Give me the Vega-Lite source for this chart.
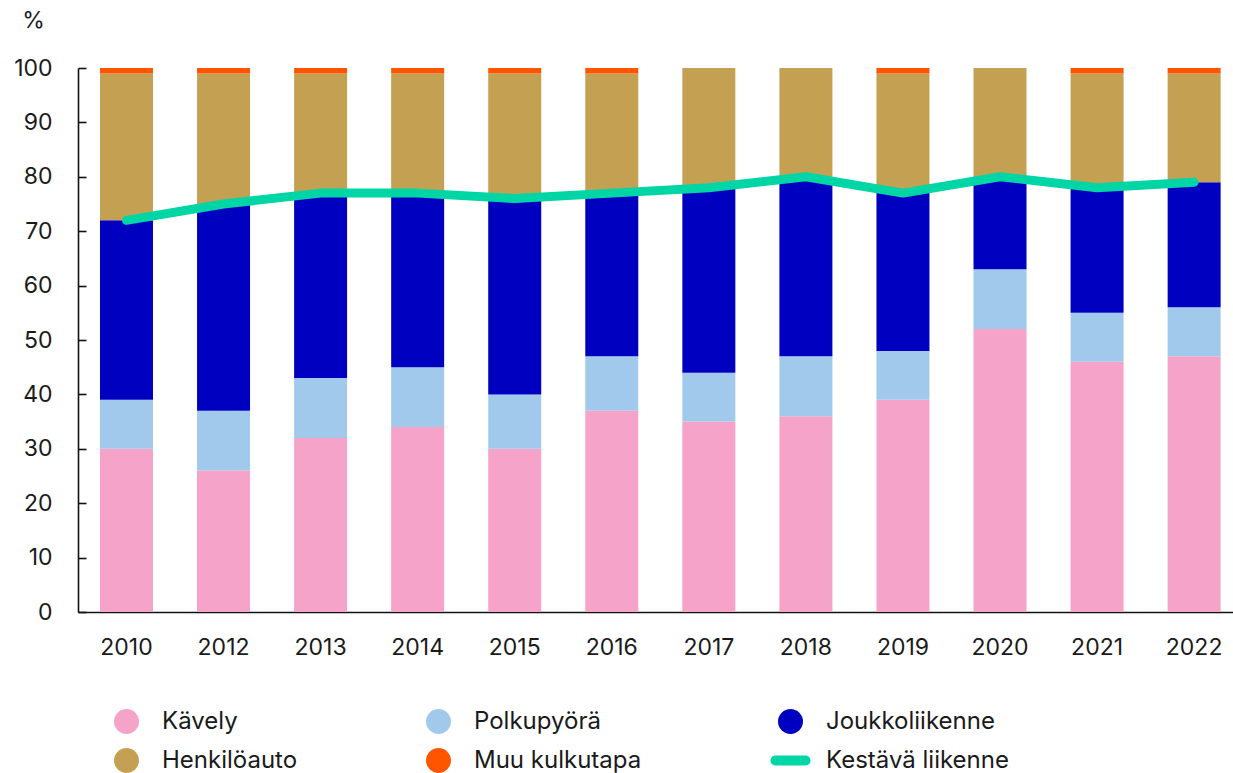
{
  "$schema": "https://vega.github.io/schema/vega-lite/v6.json",
  "width": 1155,
  "height": 544,
  "autosize": {"type": "none"},
  "padding": {"left": 78, "top": 68, "right": 0, "bottom": 161},
  "background": "white",
  "config": {
    "view": {"stroke": null},
    "font": "Inter",
    "axis": {"labelFont": "Inter", "titleFont": "Inter", "labelColor": "#1a1a1a", "titleColor": "#1a1a1a"},
    "legend": {"labelFont": "Inter"}
  },
  "datasets": {
    "bars": [
      {"year": "2010", "mode": "Kävely", "value": 30},
      {"year": "2010", "mode": "Polkupyörä", "value": 9},
      {"year": "2010", "mode": "Joukkoliikenne", "value": 33},
      {"year": "2010", "mode": "Henkilöauto", "value": 27},
      {"year": "2010", "mode": "Muu kulkutapa", "value": 1},
      {"year": "2012", "mode": "Kävely", "value": 26},
      {"year": "2012", "mode": "Polkupyörä", "value": 11},
      {"year": "2012", "mode": "Joukkoliikenne", "value": 38},
      {"year": "2012", "mode": "Henkilöauto", "value": 24},
      {"year": "2012", "mode": "Muu kulkutapa", "value": 1},
      {"year": "2013", "mode": "Kävely", "value": 32},
      {"year": "2013", "mode": "Polkupyörä", "value": 11},
      {"year": "2013", "mode": "Joukkoliikenne", "value": 34},
      {"year": "2013", "mode": "Henkilöauto", "value": 22},
      {"year": "2013", "mode": "Muu kulkutapa", "value": 1},
      {"year": "2014", "mode": "Kävely", "value": 34},
      {"year": "2014", "mode": "Polkupyörä", "value": 11},
      {"year": "2014", "mode": "Joukkoliikenne", "value": 32},
      {"year": "2014", "mode": "Henkilöauto", "value": 22},
      {"year": "2014", "mode": "Muu kulkutapa", "value": 1},
      {"year": "2015", "mode": "Kävely", "value": 30},
      {"year": "2015", "mode": "Polkupyörä", "value": 10},
      {"year": "2015", "mode": "Joukkoliikenne", "value": 36},
      {"year": "2015", "mode": "Henkilöauto", "value": 23},
      {"year": "2015", "mode": "Muu kulkutapa", "value": 1},
      {"year": "2016", "mode": "Kävely", "value": 37},
      {"year": "2016", "mode": "Polkupyörä", "value": 10},
      {"year": "2016", "mode": "Joukkoliikenne", "value": 30},
      {"year": "2016", "mode": "Henkilöauto", "value": 22},
      {"year": "2016", "mode": "Muu kulkutapa", "value": 1},
      {"year": "2017", "mode": "Kävely", "value": 35},
      {"year": "2017", "mode": "Polkupyörä", "value": 9},
      {"year": "2017", "mode": "Joukkoliikenne", "value": 34},
      {"year": "2017", "mode": "Henkilöauto", "value": 22},
      {"year": "2017", "mode": "Muu kulkutapa", "value": 0},
      {"year": "2018", "mode": "Kävely", "value": 36},
      {"year": "2018", "mode": "Polkupyörä", "value": 11},
      {"year": "2018", "mode": "Joukkoliikenne", "value": 33},
      {"year": "2018", "mode": "Henkilöauto", "value": 20},
      {"year": "2018", "mode": "Muu kulkutapa", "value": 0},
      {"year": "2019", "mode": "Kävely", "value": 39},
      {"year": "2019", "mode": "Polkupyörä", "value": 9},
      {"year": "2019", "mode": "Joukkoliikenne", "value": 29},
      {"year": "2019", "mode": "Henkilöauto", "value": 22},
      {"year": "2019", "mode": "Muu kulkutapa", "value": 1},
      {"year": "2020", "mode": "Kävely", "value": 52},
      {"year": "2020", "mode": "Polkupyörä", "value": 11},
      {"year": "2020", "mode": "Joukkoliikenne", "value": 17},
      {"year": "2020", "mode": "Henkilöauto", "value": 20},
      {"year": "2020", "mode": "Muu kulkutapa", "value": 0},
      {"year": "2021", "mode": "Kävely", "value": 46},
      {"year": "2021", "mode": "Polkupyörä", "value": 9},
      {"year": "2021", "mode": "Joukkoliikenne", "value": 23},
      {"year": "2021", "mode": "Henkilöauto", "value": 21},
      {"year": "2021", "mode": "Muu kulkutapa", "value": 1},
      {"year": "2022", "mode": "Kävely", "value": 47},
      {"year": "2022", "mode": "Polkupyörä", "value": 9},
      {"year": "2022", "mode": "Joukkoliikenne", "value": 23},
      {"year": "2022", "mode": "Henkilöauto", "value": 20},
      {"year": "2022", "mode": "Muu kulkutapa", "value": 1}
    ],
    "line": [
      {"year": "2010", "value": 72},
      {"year": "2012", "value": 75},
      {"year": "2013", "value": 77},
      {"year": "2014", "value": 77},
      {"year": "2015", "value": 76},
      {"year": "2016", "value": 77},
      {"year": "2017", "value": 78},
      {"year": "2018", "value": 80},
      {"year": "2019", "value": 77},
      {"year": "2020", "value": 80},
      {"year": "2021", "value": 78},
      {"year": "2022", "value": 79}
    ]
  },
  "encoding": {
    "x": {
      "field": "year",
      "type": "ordinal",
      "scale": {"paddingInner": 0.454, "paddingOuter": 0.177, "align": 0.64},
      "axis": {
        "title": null,
        "labelAngle": 0,
        "labelFontSize": 23,
        "labelPadding": 24,
        "ticks": false,
        "domain": true,
        "domainColor": "#111111",
        "domainWidth": 1.6,
        "labelBaseline": "top"
      }
    }
  },
  "layer": [
    {
      "data": {"name": "bars"},
      "transform": [
        {"calculate": "indexof(['Kävely','Polkupyörä','Joukkoliikenne','Henkilöauto','Muu kulkutapa'], datum.mode)", "as": "o"}
      ],
      "mark": {"type": "bar"},
      "encoding": {
        "y": {
          "field": "value",
          "type": "quantitative",
          "stack": "zero",
          "scale": {"domain": [0, 100], "nice": false},
          "axis": {
            "title": "%",
            "titleAngle": 0,
            "titleX": -45,
            "titleY": -48,
            "titleAlign": "center",
            "titleBaseline": "middle",
            "titleFontSize": 23,
            "titleFontWeight": "normal",
            "values": [0, 10, 20, 30, 40, 50, 60, 70, 80, 90, 100],
            "grid": false,
            "domain": true,
            "domainColor": "#111111",
            "domainWidth": 1.6,
            "tickColor": "#111111",
            "tickWidth": 1.6,
            "tickSize": -8,
            "labelPadding": 34,
            "labelFontSize": 23
          }
        },
        "color": {
          "field": "mode",
          "type": "nominal",
          "scale": {
            "domain": ["Kävely", "Polkupyörä", "Joukkoliikenne", "Henkilöauto", "Muu kulkutapa", "Kestävä liikenne"],
            "range": ["#f5a3c8", "#a0c9ec", "#0000c0", "#c4a152", "#ff5500", "#00d5a5"]
          },
          "legend": {
            "title": null,
            "orient": "none",
            "legendX": 36,
            "legendY": 641,
            "direction": "horizontal",
            "columns": 3,
            "padding": 0,
            "columnPadding": 128,
            "rowPadding": 14,
            "labelFontSize": 24,
            "labelColor": "#1a1a1a",
            "labelOffset": 23,
            "labelLimit": 0,
            "symbolSize": 625,
            "symbolStrokeWidth": 0,
            "symbolOpacity": 1,
            "encode": {
              "symbols": {
                "update": {
                  "fill": {"signal": "datum.value === 'Kävely' ? '#f2a2c8' : datum.value === 'Polkupyörä' ? '#a3cbee' : datum.value === 'Joukkoliikenne' ? '#35348f' : datum.value === 'Henkilöauto' ? '#c3a14f' : datum.value === 'Muu kulkutapa' ? '#ec6b24' : '#5fc09c'"},
                  "stroke": {"value": "transparent"},
                  "strokeWidth": {"value": 0},
                  "shape": {"signal": "datum.value === 'Kestävä liikenne' ? 'M-1.2,-0.4L1.2,-0.4A0.4,0.4 0 0 1 1.2,0.4L-1.2,0.4A0.4,0.4 0 0 1 -1.2,-0.4Z' : 'circle'"}
                }
              }
            }
          }
        },
        "order": {"field": "o", "type": "quantitative"}
      }
    },
    {
      "data": {"name": "line"},
      "mark": {"type": "line", "strokeWidth": 9, "strokeCap": "round", "strokeJoin": "round"},
      "encoding": {
        "y": {"field": "value", "type": "quantitative"},
        "color": {
          "datum": "Kestävä liikenne",
          "legend": {
            "title": null,
            "orient": "none",
            "legendX": 36,
            "legendY": 641,
            "direction": "horizontal",
            "columns": 3,
            "padding": 0,
            "columnPadding": 128,
            "rowPadding": 14,
            "labelFontSize": 24,
            "labelColor": "#1a1a1a",
            "labelOffset": 23,
            "labelLimit": 0,
            "symbolSize": 625,
            "symbolStrokeWidth": 0,
            "symbolOpacity": 1,
            "encode": {
              "symbols": {
                "update": {
                  "fill": {"signal": "datum.value === 'Kävely' ? '#f2a2c8' : datum.value === 'Polkupyörä' ? '#a3cbee' : datum.value === 'Joukkoliikenne' ? '#35348f' : datum.value === 'Henkilöauto' ? '#c3a14f' : datum.value === 'Muu kulkutapa' ? '#ec6b24' : '#5fc09c'"},
                  "stroke": {"value": "transparent"},
                  "strokeWidth": {"value": 0},
                  "shape": {"signal": "datum.value === 'Kestävä liikenne' ? 'M-1.2,-0.4L1.2,-0.4A0.4,0.4 0 0 1 1.2,0.4L-1.2,0.4A0.4,0.4 0 0 1 -1.2,-0.4Z' : 'circle'"}
                }
              }
            }
          }
        }
      }
    }
  ]
}
